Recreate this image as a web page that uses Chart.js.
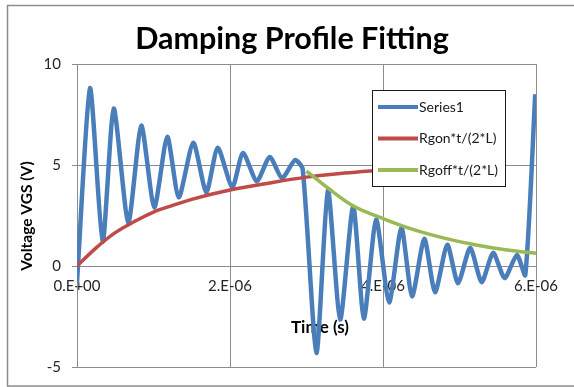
<!DOCTYPE html>
<html><head><meta charset="utf-8">
<script src="https://cdn.jsdelivr.net/npm/chart.js@4/dist/chart.umd.min.js"></script>
<style>html,body{margin:0;padding:0;background:#fff;}#wrap{position:relative;width:574px;height:387px;}</style>
</head><body><div id="wrap"><canvas id="c" width="574" height="387"></canvas></div>
<script>
const chartTitle = 'Damping Profile Fitting';
const xAxisTitle = 'Time (s)';
const yAxisTitle = 'Voltage VGS (V)';
const seriesNames = ['Series1', 'Rgon*t/(2*L)', 'Rgoff*t/(2*L)'];
const xTickValues = [0, 2, 4, 6];              // microseconds
const xTickLabels = ['0.E+00', '2.E-06', '4.E-06', '6.E-06'];
const yTickValues = [-5, 0, 5, 10];

// Series1: measured gate voltage (time in microseconds, volts)
const s1Time = [0, 0.17, 0.335, 0.48, 0.67, 0.84, 1.01, 1.18, 1.33, 1.52, 1.69, 1.84, 2.03, 2.17, 2.35, 2.52, 2.68, 2.85, 2.95,
  3.13, 3.28, 3.44, 3.61, 3.75, 3.91, 4.08, 4.24, 4.38, 4.54, 4.68, 4.84, 4.98, 5.14, 5.29, 5.44, 5.59, 5.75, 5.86, 5.99];
const s1Volt = [-0.8, 8.8, 1.2, 7.8, 2.15, 6.95, 2.9, 6.4, 3.4, 6.1, 3.65, 5.85, 3.9, 5.6, 4.2, 5.4, 4.35, 5.25, 4.8,
  -4.3, 3.75, -2.65, 2.95, -2.6, 2.3, -1.8, 1.9, -1.5, 1.35, -1.3, 1.05, -0.85, 0.9, -0.8, 0.65, -0.6, 0.55, -0.45, 8.5];

// Rgon*t/(2*L) envelope
const rgonTime = [0, 0.25, 0.5, 0.75, 1.0, 1.25, 1.5, 2.0, 2.5, 3.0, 3.5, 4.0];
const rgonVolt = [0, 0.9, 1.65, 2.2, 2.67, 3.0, 3.3, 3.76, 4.1, 4.4, 4.6, 4.75];

// Rgoff*t/(2*L) envelope
const rgoffTime = [3.0, 3.3, 3.6, 4.0, 4.4, 4.8, 5.2, 5.6, 6.0];
const rgoffVolt = [4.7, 3.8, 3.0, 2.35, 1.8, 1.38, 1.05, 0.8, 0.63];

const seriesColors = ['#4A7EBB', '#BE4B48', '#98B954'];
const FONT = 'Lato, "Open Sans", "Liberation Sans", sans-serif';

function pts(t, v) { return t.map((x, i) => ({ x: x, y: v[i] })); }

const framePlugin = {
  id: 'frame',
  beforeDraw(chart) {
    const ctx = chart.ctx;
    ctx.save();
    ctx.fillStyle = '#ffffff';
    ctx.fillRect(0, 0, chart.width, chart.height);
    ctx.strokeStyle = '#8c8c8c';
    ctx.lineWidth = 1.5;
    ctx.strokeRect(7.5, 5.5, chart.width + 20, 380.5);
    // chart title
    ctx.fillStyle = '#000000';
    ctx.font = 'bold 30.5px ' + FONT;
    ctx.textAlign = 'center';
    ctx.textBaseline = 'alphabetic';
    ctx.fillText(chartTitle, 292, 49);
    // y axis title
    ctx.save();
    ctx.translate(27, 216);
    ctx.rotate(-Math.PI / 2);
    ctx.font = 'bold 15.5px ' + FONT;
    ctx.textBaseline = 'middle';
    ctx.fillText(yAxisTitle, 0, 0);
    ctx.restore();
    ctx.restore();
  },
  beforeDatasetsDraw(chart) {
    const ctx = chart.ctx;
    ctx.save();
    ctx.fillStyle = '#000000';
    ctx.font = 'bold 17px ' + FONT;
    ctx.textAlign = 'center';
    ctx.textBaseline = 'middle';
    ctx.fillText(xAxisTitle, 320, 328);
    ctx.restore();
  },
  afterDatasetsDraw(chart) {
    const ctx = chart.ctx;
    const bx = 372.5, by = 90.5, bw = 133, bh = 96;
    ctx.save();
    ctx.fillStyle = '#ffffff';
    ctx.fillRect(bx, by, bw, bh);
    ctx.strokeStyle = '#1a1a1a';
    ctx.lineWidth = 1;
    ctx.strokeRect(bx, by, bw, bh);
    ctx.font = '14px ' + FONT;
    ctx.textAlign = 'left';
    ctx.textBaseline = 'middle';
    chart.data.datasets.forEach((ds, i) => {
      const y = 107 + i * 31.5;
      ctx.strokeStyle = ds.borderColor;
      ctx.lineWidth = 4;
      ctx.beginPath();
      ctx.moveTo(378, y);
      ctx.lineTo(418, y);
      ctx.stroke();
      ctx.fillStyle = '#1a1a1a';
      ctx.fillText(ds.label, 419, y);
    });
    ctx.restore();
  }
};

new Chart(document.getElementById('c'), {
  type: 'line',
  data: {
    datasets: [
      { label: seriesNames[0], data: pts(s1Time, s1Volt), borderColor: seriesColors[0], borderWidth: 4.5,
        pointRadius: 0, tension: 0.22, order: 10 },
      { label: seriesNames[1], data: pts(rgonTime, rgonVolt), borderColor: seriesColors[1], borderWidth: 3.5,
        pointRadius: 0, cubicInterpolationMode: 'monotone', order: 1 },
      { label: seriesNames[2], data: pts(rgoffTime, rgoffVolt), borderColor: seriesColors[2], borderWidth: 3.5,
        pointRadius: 0, cubicInterpolationMode: 'monotone', order: 0 }
    ]
  },
  options: {
    responsive: false,
    animation: false,
    devicePixelRatio: 1,
    layout: { padding: { left: 0, right: 38, top: 64, bottom: 20 } },
    plugins: { legend: { display: false }, title: { display: false }, tooltip: { enabled: false } },
    scales: {
      x: {
        type: 'linear', min: 0, max: 6, position: { y: 0 },
        afterBuildTicks: s => { s.ticks = xTickValues.map(v => ({ value: v })); },
        ticks: { callback: (v) => xTickLabels[xTickValues.indexOf(v)], color: '#262626', maxRotation: 0,
          font: { family: FONT, size: 15 }, padding: 6 },
        grid: { color: '#8c8c8c', lineWidth: 1, tickLength: 5 },
        border: { color: '#8c8c8c', width: 1 },
        afterFit: s => { s.height = 0; }
      },
      y: {
        type: 'linear', min: -5, max: 10, position: 'left',
        afterBuildTicks: s => { s.ticks = yTickValues.map(v => ({ value: v })); },
        ticks: { color: '#262626', font: { family: FONT, size: 15 }, padding: 11 },
        grid: { color: '#8c8c8c', lineWidth: 1, tickLength: 5 },
        border: { color: '#8c8c8c', width: 1 },
        afterFit: s => { s.width = 77; }
      }
    }
  },
  plugins: [framePlugin]
});
</script>
</body></html>
